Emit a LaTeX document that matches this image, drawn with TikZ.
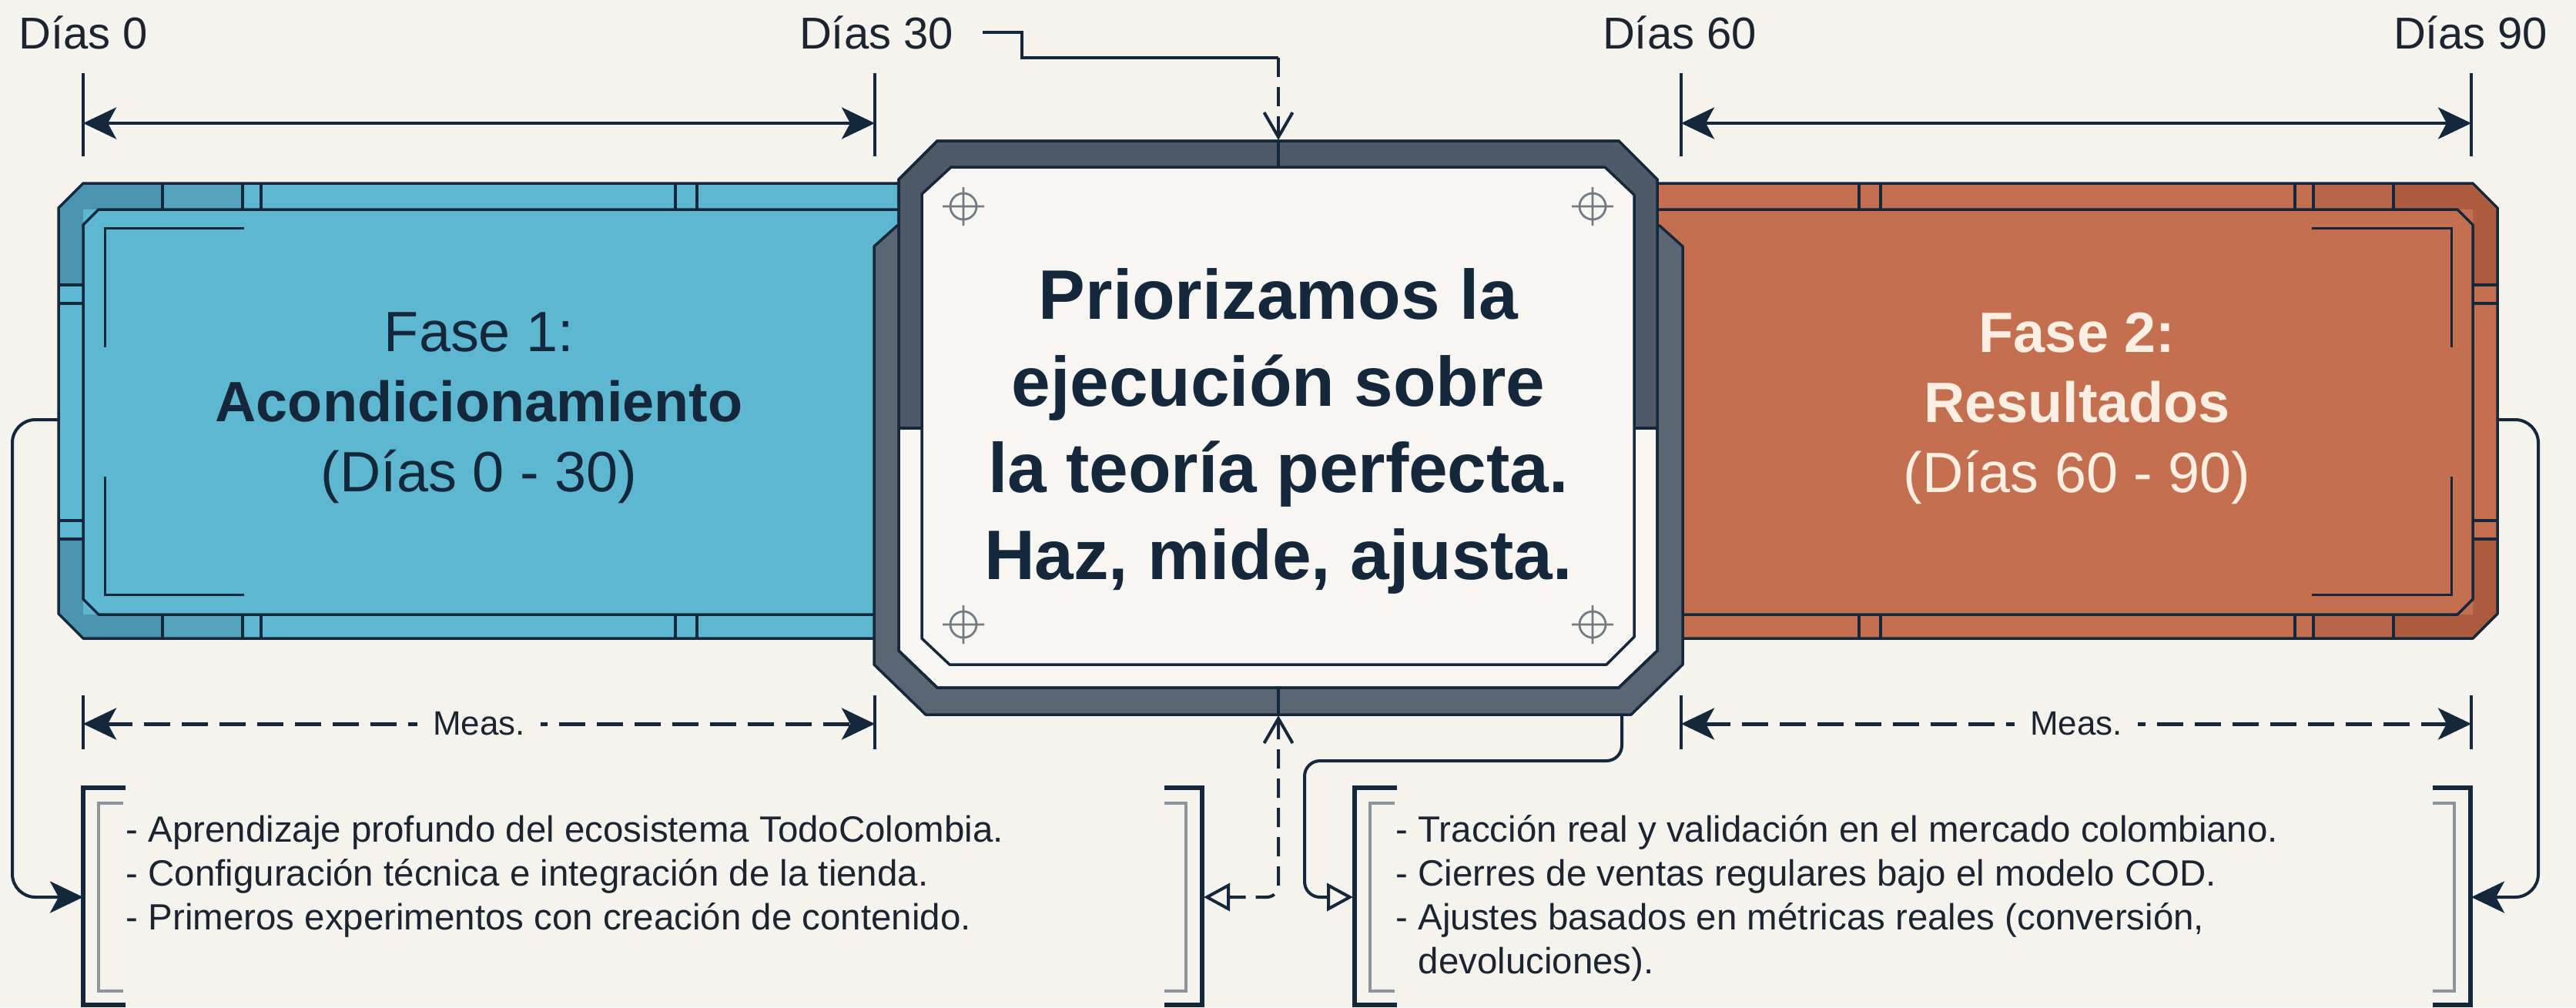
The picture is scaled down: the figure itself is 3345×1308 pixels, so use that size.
\documentclass[tikz,border=0pt]{standalone}
\usepackage{fontspec}
\setmainfont{Liberation Sans}
\usetikzlibrary{arrows.meta}
\definecolor{bg}{HTML}{F4F3EE}
\definecolor{navy}{HTML}{15283B}
\definecolor{ink}{HTML}{1C2430}
\definecolor{bluebody}{HTML}{5EB7D0}
\definecolor{bluedark}{HTML}{4A94B0}
\definecolor{bluemed}{HTML}{54A4BE}
\definecolor{orbody}{HTML}{C47050}
\definecolor{ordark}{HTML}{AE5C3F}
\definecolor{ormed}{HTML}{B96648}
\definecolor{framegray}{HTML}{4F5A68}
\definecolor{plategray}{HTML}{5B6673}
\definecolor{panel}{HTML}{F7F6F2}
\definecolor{xhgray}{HTML}{737B85}
\definecolor{brkgray}{HTML}{8E949B}
\definecolor{cream}{HTML}{FBEFE3}

\newcommand\sidebox[3]{%
  \fill[#1] (108,238) -- (1170,238) -- (1170,829) -- (108,829) -- (76,797) -- (76,270) -- cycle;
  \begin{scope}
    \clip (108,238) -- (1170,238) -- (1170,829) -- (108,829) -- (76,797) -- (76,270) -- cycle;
    \fill[#2] (60,230) rectangle (211,272);
    \fill[#3] (211,230) rectangle (315,272);
    \fill[#2] (60,230) rectangle (108,370);
    \fill[#2] (60,700) rectangle (108,840);
    \fill[#2] (60,798) rectangle (211,840);
    \fill[#3] (211,798) rectangle (315,840);
  \end{scope}
  \draw[outl] (108,238) -- (1170,238) -- (1170,829) -- (108,829) -- (76,797) -- (76,270) -- cycle;
  \draw[outl,fill=#1] (128,272) -- (1170,272) -- (1170,798) -- (128,798) -- (108,778) -- (108,292) -- cycle;
  \foreach \xx in {211,315,339,877,905}{\draw[outl] (\xx,238) -- (\xx,272) (\xx,798) -- (\xx,829);}
  \foreach \yy in {370,394,676,700}{\draw[outl] (76,\yy) -- (108,\yy);}
  \draw[thinl] (317,296) -- (136,296) -- (136,451);
  \draw[thinl] (136,619) -- (136,772) -- (317,772);
}

\newcommand\listframe[2]{%
  \draw[brkO] ({#1+55},1023) -- (#1,1023) -- (#1,1305) -- ({#1+55},1305);
  \draw[brkI] ({#1+52},1043) -- ({#1+20},1043) -- ({#1+20},1287) -- ({#1+52},1287);
  \draw[brkO] ({#2-49},1023) -- (#2,1023) -- (#2,1305) -- ({#2-49},1305);
  \draw[brkI] ({#2-49},1043) -- ({#2-21},1043) -- ({#2-21},1287) -- ({#2-49},1287);
}

\tikzset{
  outl/.style={draw=navy, line width=0.35mm, line join=round},
  thinl/.style={draw=navy, line width=0.3mm},
  brkO/.style={draw=navy, line width=0.6mm},
  brkI/.style={draw=brkgray, line width=0.4mm},
  tickln/.style={draw=navy, line width=0.35mm},
  dimln/.style={draw=navy, line width=0.4mm},
  measln/.style={draw=navy, line width=0.5mm, dash pattern=on 3.4mm off 1.5mm},
  conn/.style={draw=navy, line width=0.4mm, rounded corners=3mm},
  dashconn/.style={draw=navy, line width=0.4mm, dash pattern=on 2.5mm off 1.3mm, rounded corners=1.5mm},
  xh/.style={draw=xhgray, line width=0.28mm},
  fillhead/.tip={Stealth[length=4.3mm,width=4.1mm,inset=1.1mm]},
  openhead/.tip={Triangle[open,length=3.4mm,width=3.6mm,fill=bg]},
  vhead/.tip={Straight Barb[length=3.2mm,width=3.7mm]},
  toplbl/.style={font=\fontsize{16.5pt}{19pt}\selectfont, text=ink, inner sep=0pt, anchor=base},
  phase/.style={align=center, font=\fontsize{21pt}{25.9pt}\selectfont, inner sep=0pt},
  measlbl/.style={fill=bg, inner xsep=2mm, inner ysep=0.5mm, font=\fontsize{12.5pt}{14pt}\selectfont, text=ink},
  listtxt/.style={font=\fontsize{13.5pt}{16pt}\selectfont, text=ink, inner sep=0pt, anchor=base west},
  xhair/.pic={\draw[xh] (0,0) circle[radius=1.7mm] (-27,0) -- (27,0) (0,-25) -- (0,25);}
}

\begin{document}
\begin{tikzpicture}[x=0.1mm,y=-0.1mm]
\useasboundingbox (0,0) rectangle (3345,1308);
\fill[bg] (0,0) rectangle (3345,1308);

% ---------- top labels and dimension lines
\node[toplbl] (d0) at (108,63) {Días 0};
\node[toplbl] (d30) at (1138,63) {Días 30};
\node[toplbl] (d60) at (2181,63) {Días 60};
\node[toplbl] (d90) at (3208,63) {Días 90};

\coordinate (t0) at (108,160);
\coordinate (t30) at (1136,160);
\coordinate (t60) at (2183,160);
\coordinate (t90) at (3209,160);
\foreach \xx in {108,1136,2183,3209}{\draw[tickln] (\xx,95) -- (\xx,203);}
\draw[dimln,fillhead-fillhead] (t0) -- (t30);
\draw[dimln,fillhead-fillhead] (t60) -- (t90);

% ---------- side boxes
\sidebox{bluebody}{bluedark}{bluemed}
\begin{scope}[shift={(3319,0)},xscale=-1]
  \sidebox{orbody}{ordark}{ormed}
\end{scope}

% ---------- central framed panel
\draw[outl,fill=plategray] (1165,293) -- (2155,293) -- (2185,320) -- (2185,863) -- (2118,928) -- (1202,928) -- (1135,863) -- (1135,320) -- cycle;
\draw[outl,fill=panel] (1217,183) -- (2102,183) -- (2152,233) -- (2152,845) -- (2102,893) -- (1217,893) -- (1167,845) -- (1167,233) -- cycle;
\begin{scope}
  \clip (1100,150) rectangle (2220,556);
  \fill[framegray] (1217,183) -- (2102,183) -- (2152,233) -- (2152,845) -- (2102,893) -- (1217,893) -- (1167,845) -- (1167,233) -- cycle;
\end{scope}
\draw[outl] (1217,183) -- (2102,183) -- (2152,233) -- (2152,845) -- (2102,893) -- (1217,893) -- (1167,845) -- (1167,233) -- cycle;
\draw[outl] (1167,556) -- (1197,556) (2122,556) -- (2152,556);
\draw[outl,fill=panel] (1235,217) -- (2084,217) -- (2122,253) -- (2122,827) -- (2086,863) -- (1233,863) -- (1197,829) -- (1197,252) -- cycle;
\draw[outl] (1660,183) -- (1660,217) (1660,893) -- (1660,928);
\pic at (1251,268) {xhair};
\pic at (2068,268) {xhair};
\pic at (1251,811) {xhair};
\pic at (2068,811) {xhair};

% ---------- texts in boxes
\node[phase,text=navy] (fase1) at (622,530) {Fase 1:\\\textbf{Acondicionamiento}\\(Días 0 - 30)};
\node[phase,text=cream] (fase2) at (2697,530) {\textbf{Fase 2:}\\\textbf{Resultados}\\(Días 60 - 90)};
\node[align=center, font=\bfseries\fontsize{25.9pt}{32pt}\selectfont, text=navy, inner sep=0pt] (motto) at (1660,560)
  {Priorizamos la\\ejecución sobre\\la teoría perfecta.\\Haz, mide, ajusta.};

% ---------- measurement lines
\coordinate (m1a) at (108,940);
\coordinate (m1b) at (1136,940);
\coordinate (m2a) at (2183,940);
\coordinate (m2b) at (3209,940);
\foreach \xx in {108,1136,2183,3209}{\draw[tickln] (\xx,903) -- (\xx,973);}
\draw[measln,fillhead-fillhead] (m1a) -- node[measlbl] (meas1) {Meas.} (m1b);
\draw[measln,fillhead-fillhead] (m2a) -- node[measlbl] (meas2) {Meas.} (m2b);

% ---------- lists
\listframe{108}{1561}
\listframe{1759}{3208}
\node[listtxt] (l1a) at (163,1093) {- Aprendizaje profundo del ecosistema TodoColombia.};
\node[listtxt] (l1b) at (163,1150) {- Configuración técnica e integración de la tienda.};
\node[listtxt] (l1c) at (163,1207) {- Primeros experimentos con creación de contenido.};
\node[listtxt] (l2a) at (1812,1093) {- Tracción real y validación en el mercado colombiano.};
\node[listtxt] (l2b) at (1812,1150) {- Cierres de ventas regulares bajo el modelo COD.};
\node[listtxt] (l2c) at (1812,1207) {- Ajustes basados en métricas reales (conversión,};
\node[listtxt] (l2d) at (1812,1264) {\phantom{- }devoluciones).};

% ---------- connectors
\coordinate (blueL) at (76,545);
\coordinate (cornerL) at (16,1165);
\coordinate (list1L) at (108,1165);
\draw[conn,-fillhead] (blueL) -| (cornerL) -- (list1L);

\coordinate (orR) at (3243,545);
\coordinate (cornerR) at (3296,1165);
\coordinate (list2R) at (3209,1165);
\draw[conn,-fillhead] (orR) -| (cornerR) -- (list2R);

\coordinate (cbotR) at (2106,928);
\coordinate (c3) at (1694,988);
\coordinate (list2L) at (1757,1165);
\draw[conn,rounded corners=2mm,-openhead] (cbotR) |- (c3) |- (list2L);

\coordinate (cbotC) at (1660,929);
\coordinate (list1R) at (1563,1165);
\draw[dashconn,vhead-openhead] (cbotC) |- (list1R);

\coordinate (d30out) at (1276,42);
\coordinate (kinkT) at (1327,42);
\coordinate (bendT) at (1660,75);
\coordinate (ctop) at (1660,182);
\draw[dimln] (d30out) -- (kinkT) |- (bendT);
\draw[dashconn,-vhead] (bendT) -- (ctop);
\end{tikzpicture}
\end{document}
